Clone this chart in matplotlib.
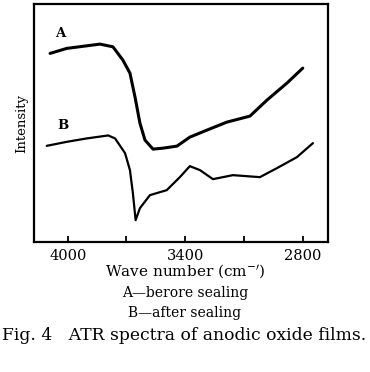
import numpy as np
import matplotlib.pyplot as plt

# Données (nombre d'onde en cm-1, intensité en unités arbitraires)
wn_a = [4090, 4005, 3835, 3769, 3718, 3682, 3656, 3631, 3605, 3564, 3513,
        3442, 3376, 3289, 3187, 3069, 2982, 2880, 2799]
int_a = [188.7, 193.7, 198, 195.3, 182, 169, 145, 119, 102, 93, 94,
         96, 105, 112, 120, 126, 142, 159, 174]

wn_b = [4107, 4005, 3903, 3793, 3758, 3707, 3682, 3667, 3653, 3631, 3580,
        3494, 3427, 3376, 3324, 3258, 3156, 3018, 2931, 2829, 2747]
int_b = [96.3, 100.3, 103.7, 106.7, 103.7, 89, 72, 49, 22, 34, 47,
         52, 65, 76, 72, 63, 67, 65, 74, 85, 99]

ticks = [4000, 3700, 3400, 3100, 2800]
tick_labels = ["4000", "", "3400", "", "2800"]

plt.rcParams['font.family'] = ['DejaVu Serif']

fig = plt.figure(figsize=(3.7, 3.72), dpi=100)
ax = fig.add_axes([0.092, 0.349, 0.794, 0.640])

ax.plot(wn_a, int_a, color='black', lw=2.2, solid_capstyle='round')
ax.plot(wn_b, int_b, color='black', lw=1.6, solid_capstyle='round')

ax.set_xlim(4172, 2671)
ax.set_ylim(0, 238)
ax.set_yticks([])
ax.set_xticks(ticks)
ax.set_xticklabels(tick_labels, fontsize=10.5)
ax.tick_params(axis='x', direction='in', length=4, width=1.3, pad=5)
for s in ax.spines.values():
    s.set_linewidth(1.6)

ax.text(4040, 209, "A", fontsize=9.5, fontweight='bold', ha='center', va='center')
ax.text(4025, 117, "B", fontsize=9.5, fontweight='bold', ha='center', va='center')
ax.set_ylabel("Intensity", fontsize=9.5, labelpad=4)

fig.text(0.5, 1 - 272 / 372, "Wave number (cm$^{-\\prime}$)", fontsize=11,
         ha='center', va='center')
fig.text(0.5, 1 - 293 / 372, "A\u2014berore sealing", fontsize=10,
         ha='center', va='center')
fig.text(0.5, 1 - 313 / 372, "B\u2014after sealing", fontsize=10,
         ha='center', va='center')
fig.text(0.005, 1 - 336 / 372, "Fig. 4   ATR spectra of anodic oxide films.",
         fontsize=12.3, ha='left', va='center')

fig.savefig("out.png", dpi=100)
